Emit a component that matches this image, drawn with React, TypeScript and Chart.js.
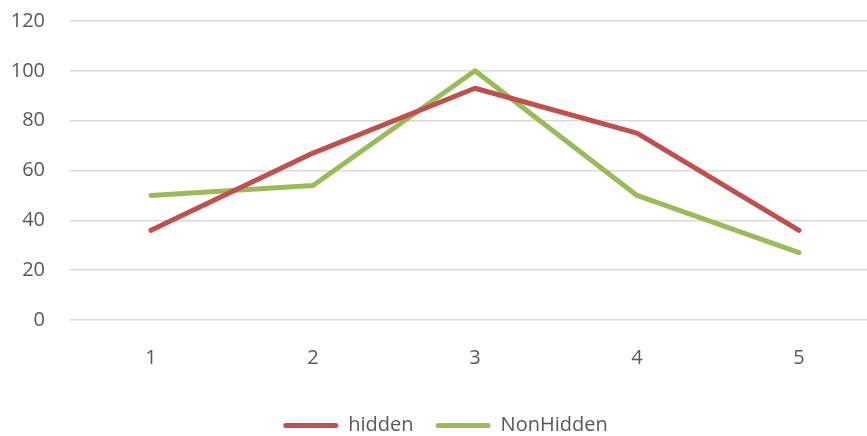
import React, { useEffect, useRef } from "react";
import { Chart, registerables } from "chart.js";

Chart.register(...registerables);

const categories = ["1", "2", "3", "4", "5"];
const hiddenValues = [36, 67, 93, 75, 36];
const nonHiddenValues = [50, 54, 100, 50, 27];
const yTickMin = 0;
const yTickMax = 120;
const yTickStep = 20;

const FONT = "'Open Sans', sans-serif";
const TEXT = "#595959";

export default function App() {
  const ref = useRef<HTMLCanvasElement | null>(null);

  useEffect(() => {
    if (!ref.current) return;
    const chart = new Chart(ref.current, {
      type: "line",
      data: {
        labels: categories,
        datasets: [
          {
            label: "hidden",
            data: hiddenValues,
            borderColor: "#C0504D",
            backgroundColor: "#C0504D",
            borderWidth: 5,
            pointRadius: 0,
            borderCapStyle: "round",
            borderJoinStyle: "round",
            tension: 0,
          },
          {
            label: "NonHidden",
            data: nonHiddenValues,
            borderColor: "#9BBB59",
            backgroundColor: "#9BBB59",
            borderWidth: 5,
            pointRadius: 0,
            borderCapStyle: "round",
            borderJoinStyle: "round",
            tension: 0,
          },
        ],
      },
      options: {
        animation: false,
        responsive: false,
        maintainAspectRatio: false,
        layout: { padding: { left: 11, right: 0, top: 0, bottom: -2.5 } },
        plugins: {
          tooltip: { enabled: false },
          legend: {
            position: "bottom",
            labels: {
              color: TEXT,
              font: { family: FONT, size: 20 },
              boxWidth: 55,
              boxHeight: 5,
              padding: 22,
              generateLabels: (c: any) =>
                c.data.datasets.map((ds: any, i: number) => ({
                  text: ds.label,
                  fillStyle: ds.borderColor,
                  strokeStyle: ds.borderColor,
                  lineWidth: 0,
                  fontColor: TEXT,
                  borderRadius: 2.5,
                  datasetIndex: i,
                  hidden: false,
                })),
            },
          },
        },
        scales: {
          x: {
            type: "category",
            offset: true,
            afterFit: (scale: any) => {
              scale.height = scale.height - 3.5;
            },
            grid: { display: false, drawTicks: false },
            border: { display: false },
            ticks: {
              color: TEXT,
              font: { family: FONT, size: 20 },
              padding: 26.5,
            },
          },
          y: {
            min: yTickMin,
            max: yTickMax,
            afterFit: (scale: any) => {
              scale.width = 59;
            },
            grid: { color: "#D9D9D9", lineWidth: 1.5, drawTicks: false },
            border: { display: false },
            ticks: {
              stepSize: yTickStep,
              color: TEXT,
              font: { family: FONT, size: 20 },
              padding: 25,
            },
          },
        },
      },
    });
    return () => chart.destroy();
  }, []);

  return (
    <div style={{ position: "fixed", left: 0, top: -16.5, width: 880, height: 459 }}>
      <canvas ref={ref} width={880} height={459} />
    </div>
  );
}
